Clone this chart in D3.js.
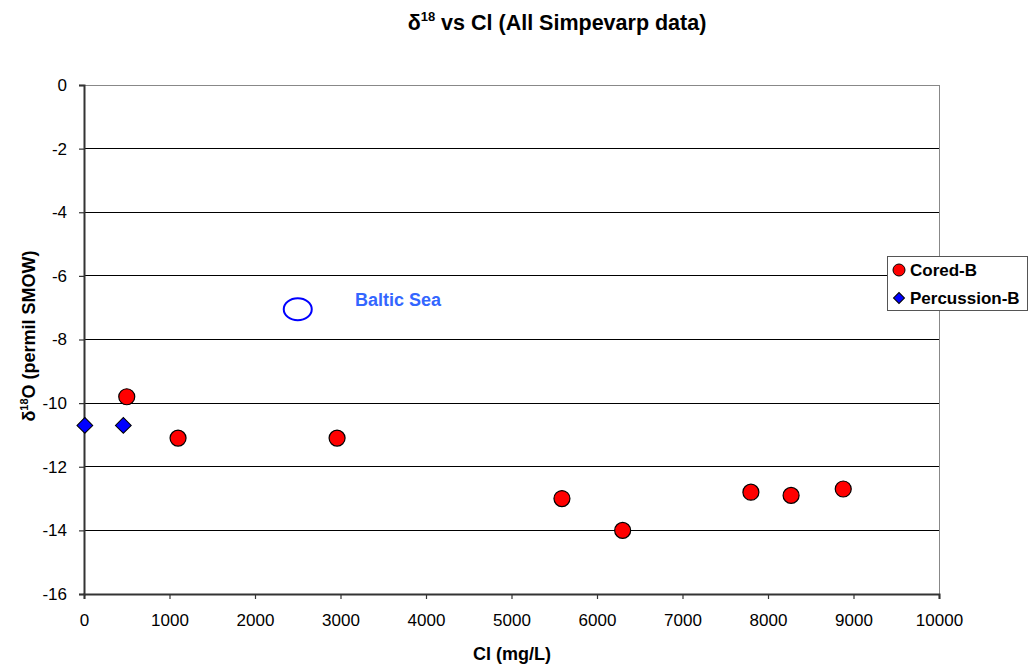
<!DOCTYPE html>
<html>
<head>
<meta charset="utf-8">
<script src="https://cdn.jsdelivr.net/npm/d3@7"></script>
<style>
  body { margin: 0; background: #fff; }
  svg { display: block; font-family: "Liberation Sans", Arial, sans-serif; }
</style>
</head>
<body>
<svg id="chart" width="1029" height="667"></svg>
<script>
// Cored-B samples: Cl (mg/L) and δ18O (permil SMOW)
const coredCl  = [500, 1100, 2960, 5590, 6300, 7800, 8270, 8880];
const coredD18 = [-9.8, -11.1, -11.1, -13.0, -14.0, -12.8, -12.9, -12.7];
// Percussion-B samples
const percCl  = [10, 460];
const percD18 = [-10.7, -10.7];
// Baltic Sea reference point
const balticCl = 2500, balticD18 = -7.05;

const xTicks = [0, 1000, 2000, 3000, 4000, 5000, 6000, 7000, 8000, 9000, 10000];
const yTicks = [0, -2, -4, -6, -8, -10, -12, -14, -16];

const svg = d3.select("#chart");
const m = { left: 84, right: 939, top: 85, bottom: 594 };

const x = d3.scaleLinear().domain([0, 10000]).range([m.left, m.right]);
const y = d3.scaleLinear().domain([-16, 0]).range([m.bottom, m.top]);

// gridlines
svg.append("g").selectAll("line").data(yTicks.filter(d => d !== -16)).join("line")
  .attr("x1", m.left).attr("x2", m.right)
  .attr("y1", d => y(d)).attr("y2", d => y(d))
  .attr("stroke", d => d === 0 ? "#888" : "#000").attr("stroke-width", 1)
  .attr("shape-rendering", "crispEdges");
// right border
svg.append("line").attr("x1", m.right).attr("x2", m.right)
  .attr("y1", m.top).attr("y2", m.bottom)
  .attr("stroke", "#888").attr("shape-rendering", "crispEdges");

// axes
const xAxis = svg.append("g").attr("transform", `translate(0,${m.bottom})`)
  .call(d3.axisBottom(x).tickValues(xTicks).tickFormat(d3.format("d")).tickSize(5).tickPadding(15));
const yAxis = svg.append("g").attr("transform", `translate(${m.left},0)`)
  .call(d3.axisLeft(y).tickValues(yTicks).tickFormat(d => String(d).replace("−", "-")).tickSize(5).tickPadding(12));
[xAxis, yAxis].forEach(a => {
  a.select(".domain").attr("stroke", "#333").attr("stroke-width", 2);
  a.selectAll(".tick line").attr("stroke", "#333").attr("stroke-width", 1.2);
  a.selectAll(".tick text").attr("font-size", 17).attr("fill", "#000")
    .attr("font-family", "Liberation Sans, Arial, sans-serif");
});

// Baltic Sea marker and label
svg.append("ellipse").attr("cx", x(balticCl)).attr("cy", y(balticD18))
  .attr("rx", 14).attr("ry", 11).attr("fill", "none")
  .attr("stroke", "#0000ff").attr("stroke-width", 2);
svg.append("text").attr("x", 355).attr("y", 306)
  .attr("font-size", 18).attr("font-weight", "bold").attr("fill", "#3366ff")
  .text("Baltic Sea");

// Cored-B points
svg.append("g").selectAll("circle").data(coredCl.map((c, i) => [c, coredD18[i]])).join("circle")
  .attr("cx", d => x(d[0])).attr("cy", d => y(d[1])).attr("r", 8)
  .attr("fill", "#ff0000").attr("stroke", "#000").attr("stroke-width", 1.2);

// Percussion-B points
const diamond = d3.symbol().type(d3.symbolSquare).size(125);
svg.append("g").selectAll("path").data(percCl.map((c, i) => [c, percD18[i]])).join("path")
  .attr("d", diamond)
  .attr("transform", d => `translate(${x(d[0])},${y(d[1])}) rotate(45)`)
  .attr("fill", "#0000ff").attr("stroke", "#000").attr("stroke-width", 1);

// title
const title = svg.append("text").attr("x", 557).attr("y", 30).attr("text-anchor", "middle")
  .attr("font-size", 21.5).attr("font-weight", "bold");
title.append("tspan").text("δ");
title.append("tspan").attr("font-size", 13).attr("dy", -9).text("18");
title.append("tspan").attr("dy", 9).text(" vs Cl (All Simpevarp data)");

// x axis title
svg.append("text").attr("x", 512).attr("y", 660).attr("text-anchor", "middle")
  .attr("font-size", 18).attr("font-weight", "bold").text("Cl (mg/L)");

// y axis title
const yt = svg.append("text").attr("transform", "translate(35,336) rotate(-90)")
  .attr("text-anchor", "middle").attr("font-size", 18).attr("font-weight", "bold");
yt.append("tspan").text("δ");
yt.append("tspan").attr("font-size", 11).attr("dy", -7).text("18");
yt.append("tspan").attr("dy", 7).text("O (permil SMOW)");

// legend
const lg = svg.append("g").attr("transform", "translate(887,256)");
lg.append("rect").attr("width", 140).attr("height", 54)
  .attr("fill", "#fff").attr("stroke", "#555").attr("stroke-width", 1)
  .attr("shape-rendering", "crispEdges");
lg.append("circle").attr("cx", 12).attr("cy", 14).attr("r", 6)
  .attr("fill", "#ff0000").attr("stroke", "#000").attr("stroke-width", 1);
lg.append("path").attr("d", d3.symbol().type(d3.symbolSquare).size(60))
  .attr("transform", "translate(12,42) rotate(45)")
  .attr("fill", "#0000ff").attr("stroke", "#000").attr("stroke-width", 1);
lg.append("text").attr("x", 23).attr("y", 20).attr("font-size", 17).attr("font-weight", "bold").text("Cored-B");
lg.append("text").attr("x", 23).attr("y", 48).attr("font-size", 17).attr("font-weight", "bold").text("Percussion-B");
</script>
</body>
</html>
